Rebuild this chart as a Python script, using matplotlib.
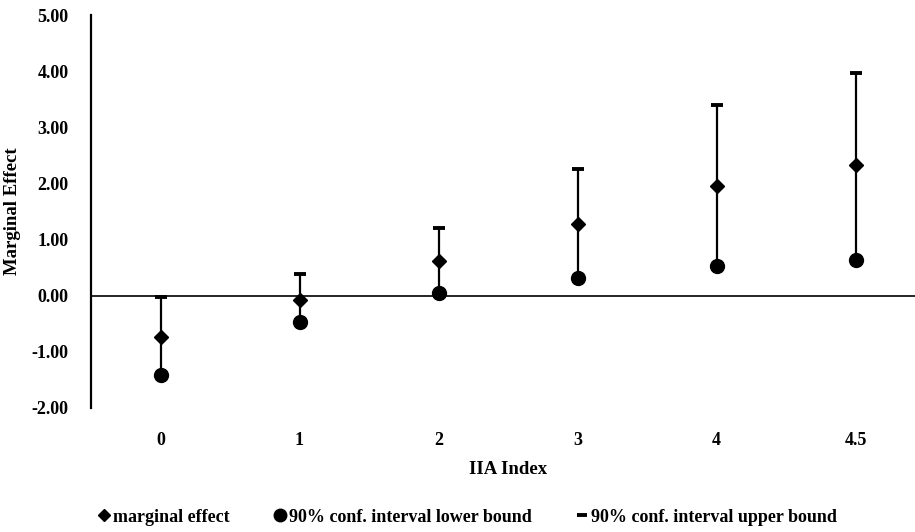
import numpy as np
import matplotlib.pyplot as plt

# ---- data ----
categories = ["0", "1", "2", "3", "4", "4.5"]
marginal_effect = [-0.73, -0.07, 0.61, 1.28, 1.96, 2.32]
lower_bound = [-1.42, -0.46, 0.05, 0.32, 0.53, 0.64]
upper_bound = [-0.02, 0.39, 1.21, 2.26, 3.39, 3.96]

plt.rcParams.update({
    "font.family": ["Liberation Serif", "DejaVu Serif"],
    "font.weight": "bold",
    "axes.labelweight": "bold",
    "font.size": 13,
})

fig = plt.figure(figsize=(9.15, 5.32), dpi=100)
ax = fig.add_axes([91 / 915, 1 - 408 / 532, 834 / 915, 393 / 532])

x = np.arange(len(categories))

# line from lower bound up to upper bound, cap only on top
ax.vlines(x, lower_bound, upper_bound, color="black", lw=1.6, zorder=2)
ax.plot(x, upper_bound, ls="none", marker="_", ms=8, mew=2.8,
        color="black", zorder=3, label="90% conf. interval upper bound")
ax.plot(x, lower_bound, ls="none", marker="o", ms=10, color="black",
        zorder=4, label="90% conf. interval lower bound")
ax.plot(x, marginal_effect, ls="none", marker="D", ms=7, color="black",
        zorder=5, label="marginal effect")

ax.axhline(0, color="black", lw=1.2, zorder=1)

ax.set_xlim(-0.5, len(categories) - 0.5)
ax.set_ylim(-2, 5)
ax.set_yticks(np.arange(-2, 6, 1))
ax.set_yticklabels([f"{v:.2f}" for v in np.arange(-2, 6, 1)])
ax.set_xticks(x)
ax.set_xticklabels(categories)
ax.tick_params(axis="y", length=0, pad=16)
ax.tick_params(axis="x", length=0, pad=17)

for s in ("top", "right", "bottom"):
    ax.spines[s].set_visible(False)
ax.spines["left"].set_linewidth(1.6)

ax.set_ylabel("Marginal Effect", fontsize=13.5, labelpad=8)
ax.set_xlabel("IIA Index", fontsize=13.5, labelpad=9)

handles, labels = ax.get_legend_handles_labels()
order = [2, 1, 0]
fig.legend([handles[i] for i in order], [labels[i] for i in order],
           loc="center", bbox_to_anchor=(0.51, 1 - 517 / 532), ncol=3,
           frameon=False, handletextpad=0.1, columnspacing=2.4,
           handlelength=0.8, markerscale=0.9, fontsize=13)

fig.savefig("out.png", dpi=100)
